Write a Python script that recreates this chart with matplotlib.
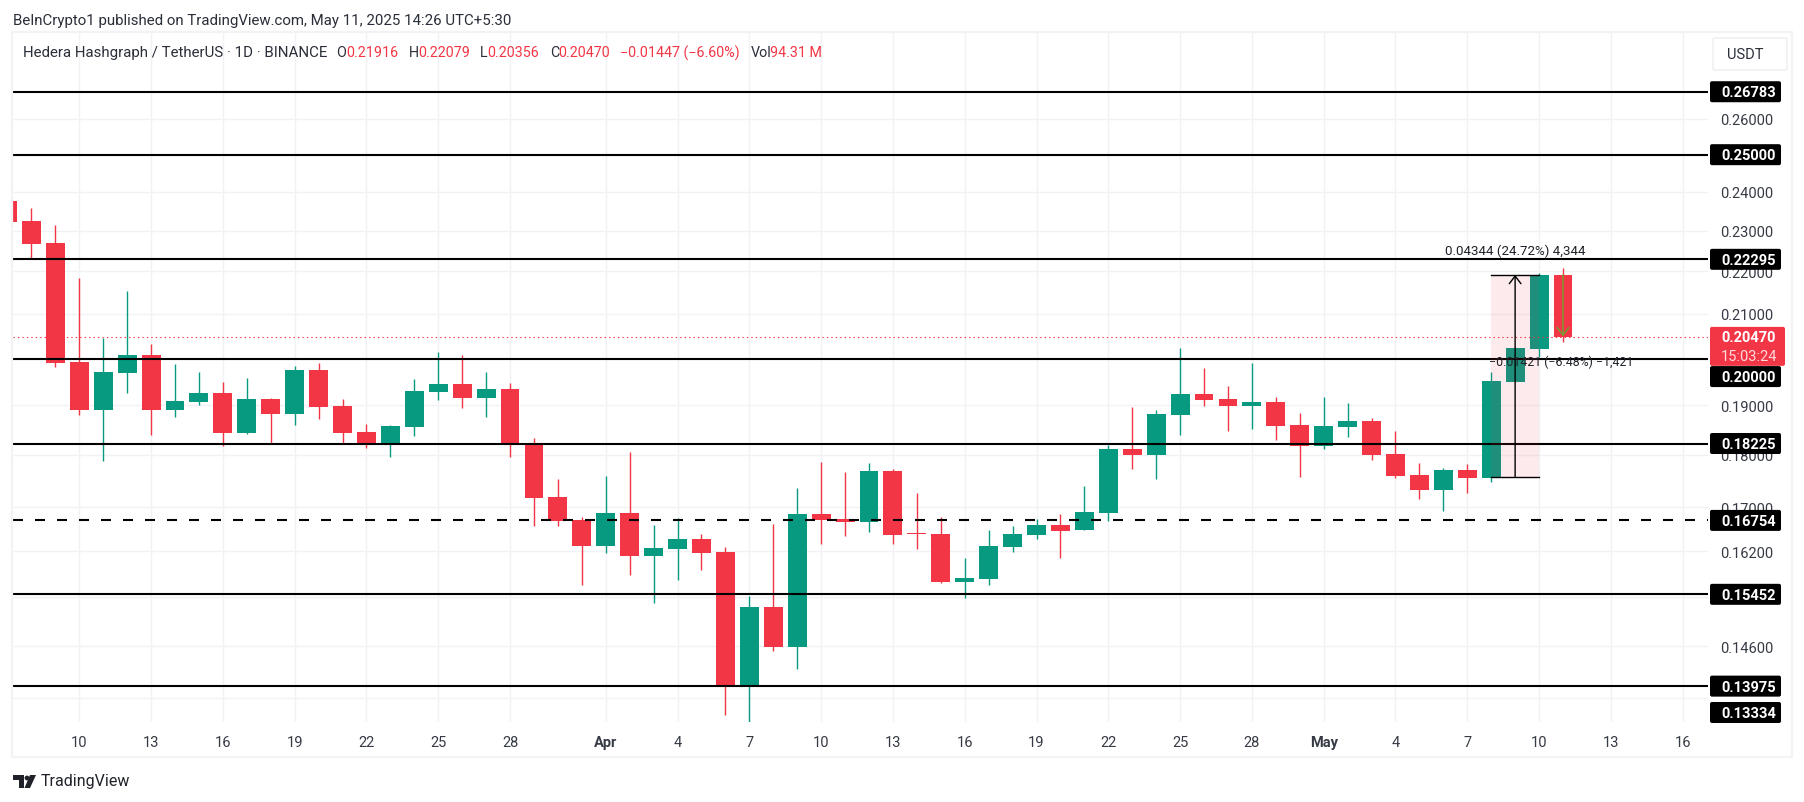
import matplotlib
matplotlib.use('Agg')
import matplotlib.pyplot as plt
from matplotlib.patches import FancyBboxPatch, Rectangle, Polygon, Circle
from matplotlib.transforms import IdentityTransform

plt.rcParams['font.family'] = ['Roboto', 'DejaVu Sans']
plt.rcParams['lines.scale_dashes'] = False

# day number: March days as is, April = 31 + d, May = 61 + d
days = list(range(7, 73))
opens = [.23766, .23253, .22707, .19929, .18909, .19690, .20081, .18909, .19075, .19263,
         .18440, .19137, .18827, .19755, .18992, .18461, .18239, .18562, .19285, .19454,
         .19158, .19348, .18199, .17192, .16764, .16295, .16894, .16118, .16242, .16420,
         .16189, .13981, .15243, .14590, .16875, .16783, .16728, .17689, .16528, .16511,
         .15665, .15717, .16277, .16492, .16674, .16583, .16893, .18120, .18001, .18806,
         .19243, .19137, .18992, .19075, .18602, .18179, .18562, .18683, .18021, .17611,
         .17325, .17708, .17553, .19497, .20214, .21916]
highs = [.23766, .23586, .23152, .21854, .20458, .21538, .20325, .19885, .19712, .19497,
         .19582, .19158, .19842, .19907, .19137, .18622, .18602, .19561, .20148, .20081,
         .19712, .19475, .18339, .17533, .16820, .17592, .18060, .16674, .16801, .16511,
         .16277, .15427, .16692, .17359, .17863, .17669, .17844, .17728, .17268, .16820,
         .16083, .16583, .16655, .16783, .16875, .17400, .18199, .18971, .18909, .20236,
         .19798, .19412, .19907, .19179, .18848, .19179, .19054, .18745, .18481, .17844,
         .17747, .17824, .19712, .20258, .21967, .22079]
lows = [.23228, .22306, .19827, .18806, .17888, .19263, .18400, .18764, .19012, .18179,
        .18420, .18239, .18602, .18724, .18239, .18140, .17961, .18379, .19116, .18950,
        .18764, .17961, .16655, .16655, .15614, .16171, .15786, .15309, .15699, .15873,
        .13544, .13426, .14527, .14243, .16331, .16474, .16547, .16331, .16242, .15648,
        .15393, .15614, .16189, .16420, .16083, .16583, .16746, .17727, .17533, .18400,
        .18992, .18481, .18521, .18298, .17572, .18120, .18359, .17902, .17553, .17154,
        .16931, .17268, .17476, .19497, .20038, .20356]
closes = [.23228, .22675, .19913, .18909, .19712, .20081, .18909, .19095, .19263, .18440,
          .19137, .18827, .19755, .18971, .18440, .18239, .18582, .19306, .19454, .19158,
          .19348, .18239, .17172, .16746, .16295, .16894, .16118, .16260, .16420, .16171,
          .13981, .15243, .14590, .16875, .16764, .16728, .17689, .16492, .16511, .15665,
          .15734, .16295, .16511, .16674, .16565, .16912, .18120, .18001, .18827, .19243,
          .19116, .18992, .19075, .18582, .18179, .18582, .18683, .18001, .17592, .17325,
          .17708, .17553, .19518, .20236, .21918, .20470]

solid_levels = [0.26783, 0.25, 0.22295, 0.2, 0.18225, 0.15452, 0.13975]
dashed_levels = [0.16754]
low_label = 0.13334
last_price = 0.2047
countdown = '15:03:24'

price_ticks = [.26, .25, .24, .23, .22, .21, .20, .19, .18, .17, .162, .154, .146, .138]
# these sit fully behind the black price tags
hidden_ticks = [.25, .20, .154, .138]
date_ticks = [10, 13, 16, 19, 22, 25, 28, 32, 35, 38, 41, 44, 47, 50, 53, 56, 59, 62, 65, 68, 71, 74, 77]
date_labels = ['10', '13', '16', '19', '22', '25', '28', 'Apr', '4', '7', '10', '13', '16', '19', '22',
               '25', '28', 'May', '4', '7', '10', '13', '16']

up_range = (69, 71, 0.17574, 0.21918)
up_text = '0.04344 (24.72%) 4,344'
down_arrow = (72, 0.21916, 0.20495)
down_text = '\u22120.01421 (\u22126.48%) \u22121,421'

W, H = 1804, 803
GREEN, RED = '#089981', '#f23645'
TEXT = '#363a45'

fig = plt.figure(figsize=(W / 100, H / 100), dpi=100)
ax = fig.add_axes([13 / W, 1 - 723 / H, 1695 / W, 689 / H])
ax.set_yscale('log')
ax.set_xlim(7.23, 78.06)
ax.set_ylim(0.13437, 0.28561)

for s in ax.spines.values():
    s.set_visible(False)

# price axis on the right
ax.yaxis.tick_right()
ax.set_yticks(price_ticks)
ax.set_yticklabels(['' if p in hidden_ticks else f'{p:.5f}' for p in price_ticks])
ax.set_yticks([], minor=True)
ax.tick_params(axis='y', length=0, pad=8.6, labelsize=10.5, labelcolor=TEXT)

ax.set_xticks(date_ticks)
ax.set_xticklabels(date_labels)
ax.tick_params(axis='x', length=0, pad=9.2, labelsize=10.5, labelcolor=TEXT)
for lab in ax.get_xticklabels():
    if lab.get_text() in ('Apr', 'May'):
        lab.set_fontweight('bold')

ax.grid(True, color='#f1f2f5', lw=1)
ax.set_axisbelow(True)

# candles
colors = [GREEN if c >= o else RED for o, c in zip(opens, closes)]
ax.vlines(days, lows, highs, colors=colors, lw=1.0, zorder=2)
ax.bar(days, [abs(c - o) for o, c in zip(opens, closes)], bottom=[min(o, c) for o, c in zip(opens, closes)],
       width=0.79, color=colors, zorder=3)

# horizontal levels
for lvl in solid_levels:
    ax.axhline(lvl, color='black', lw=1.5, zorder=4)
for lvl in dashed_levels:
    ax.axhline(lvl, color='black', lw=1.5, zorder=4, dashes=(7.2, 8.64), dash_capstyle='butt')
ax.axhline(last_price, color=RED, lw=0.8, linestyle=(0, (1.0, 2.2)), zorder=4)

# measure tools
x0, x1, lo, hi = up_range
ax.add_patch(Rectangle((x0, lo), x1 - x0, hi - lo, facecolor=RED, alpha=0.1, edgecolor='none', zorder=5))
ax.plot([x0, x1], [hi, hi], color='black', lw=1, zorder=6)
ax.plot([x0, x1], [lo, lo], color='black', lw=1, zorder=6)
ax.annotate('', xy=((x0 + x1) / 2, hi), xytext=((x0 + x1) / 2, lo), zorder=6,
            arrowprops=dict(arrowstyle='->,head_length=0.55,head_width=0.42', color='black', lw=1,
                            shrinkA=0, shrinkB=0, mutation_scale=10))
ax.annotate('', xy=(down_arrow[0], down_arrow[2]), xytext=(down_arrow[0], down_arrow[1]), zorder=6,
            arrowprops=dict(arrowstyle='->,head_length=0.55,head_width=0.42', color='#6fa32f', lw=1,
                            shrinkA=0, shrinkB=0, mutation_scale=10))


def price_y(p):
    return H - ax.transData.transform((0, p))[1]


def label(x, y, s, **kw):
    kw.setdefault('va', 'center')
    kw.setdefault('fontsize', 10.5)
    kw.setdefault('color', TEXT)
    fig.text(x / W, 1 - y / H, s, **kw)


def box(x, y, w, h, zorder=6, **kw):
    fig.add_artist(FancyBboxPatch((x, H - y - h), w, h, boxstyle='round,pad=0,rounding_size=2',
                                  transform=IdentityTransform(), zorder=zorder, **kw))


label(1515, price_y(hi) - 24.5, up_text, ha='center', fontsize=9.6, color='#1f2229', zorder=7)
label(1561, price_y(down_arrow[2]) + 25, down_text, ha='center', fontsize=8.9, color='#1f2229', zorder=7)

# black price tags, pushed where they would overlap or leave the panel
for lvl in solid_levels + dashed_levels + [low_label]:
    yc = min(price_y(lvl), 713.5)
    if lvl == 0.2:
        yc += 18
    box(1710, yc - 10.5, 71, 21, facecolor='black', edgecolor='none')
    label(1721, yc + 0.5, f'{lvl:.5f}', color='white', fontweight='bold', zorder=7)

# last price tag
yc = price_y(last_price)
box(1710, yc - 10.5, 75, 39, facecolor=RED, edgecolor='none', zorder=8)
label(1721, yc, f'{last_price:.5f}', color='white', fontweight='bold', zorder=9)
label(1721, yc + 19, countdown, color='#ffd9dc', zorder=9)

# frame and USDT button
fig.add_artist(Rectangle((12, H - 758), 1780, 725, transform=IdentityTransform(), facecolor='none',
                         edgecolor='#f3f3f5', lw=1.6, zorder=3))
box(1713, 39, 74, 32, facecolor='white', edgecolor='#eceef2', lw=1, zorder=3)
label(1745, 55, 'USDT', ha='center', fontsize=10.5, color='#2a2e39')

# header lines
label(13, 21, 'BeInCrypto1 published on TradingView.com, May 11, 2025 14:26 UTC+5:30', fontsize=10.85, color='#2a2e39')
label(23, 53, 'Hedera Hashgraph / TetherUS \u00b7 1D \u00b7 BINANCE', fontsize=10.8, color='#2a2e39')
for x, s in [(336, 'O'), (409, 'H'), (480, 'L'), (550, 'C'), (751, 'Vol')]:
    label(x, 53, s, fontsize=10.3, color='#2a2e39')
for x, s in [(346, '0.21916'), (418, '0.22079'), (487, '0.20356'), (558, '0.20470'),
             (620, '\u22120.01447 (\u22126.60%)'), (770, '94.31 M')]:
    label(x, 53, s, fontsize=10.3, color=RED)

# TradingView logo
logo = '#1f2229'
fig.add_artist(Polygon([(13, H - 776), (24, H - 776), (24, H - 789), (19, H - 789), (19, H - 781), (13, H - 781)],
                       transform=IdentityTransform(), facecolor=logo, edgecolor='none', zorder=3))
fig.add_artist(Circle((27, H - 779), 2.4, transform=IdentityTransform(), facecolor=logo, edgecolor='none', zorder=3))
fig.add_artist(Polygon([(30, H - 776), (36, H - 776), (30, H - 789), (24.5, H - 789)],
                       transform=IdentityTransform(), facecolor=logo, edgecolor='none', zorder=3))
label(41, 782, 'TradingView', fontsize=11.5, color=logo)

fig.savefig('out.png', dpi=100, facecolor='white')
